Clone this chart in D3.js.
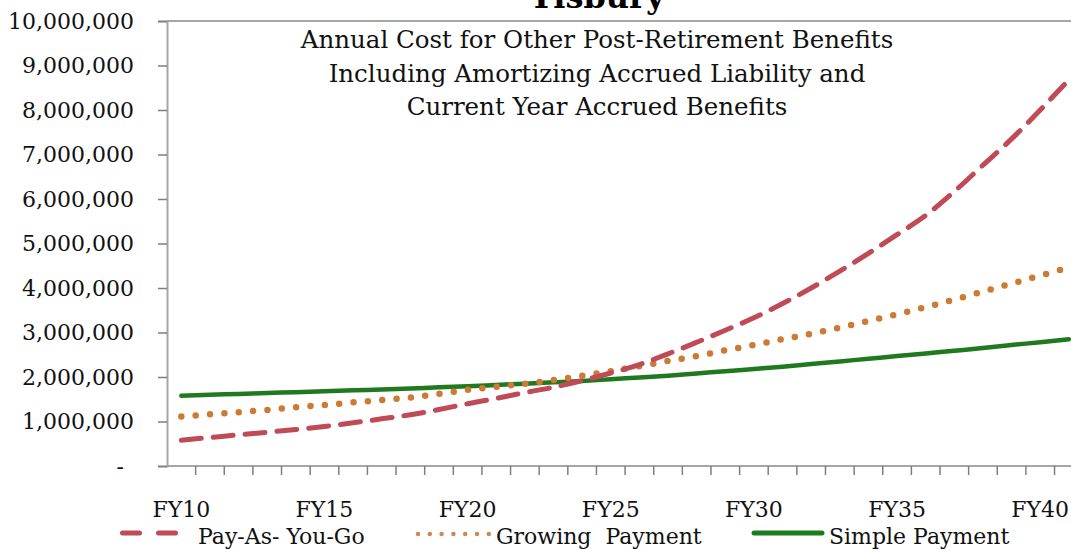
<!DOCTYPE html>
<html>
<head>
<meta charset="utf-8">
<script src="https://cdn.jsdelivr.net/npm/d3@7"></script>
<style>
  html, body { margin: 0; padding: 0; background: #fff; }
  svg { display: block; font-family: 'DejaVu Serif', serif; }
</style>
</head>
<body>
<svg id="chart" width="1071" height="550"></svg>
<script>
// categories FY10 .. FY41
var years = ['FY10','FY11','FY12','FY13','FY14','FY15','FY16','FY17','FY18','FY19',
             'FY20','FY21','FY22','FY23','FY24','FY25','FY26','FY27','FY28','FY29',
             'FY30','FY31','FY32','FY33','FY34','FY35','FY36','FY37','FY38','FY39',
             'FY40','FY41'];
var xLabels = ['FY10','FY15','FY20','FY25','FY30','FY35','FY40'];
var yTicks = [0,1000000,2000000,3000000,4000000,5000000,6000000,7000000,8000000,9000000,10000000];

// values (dollars)
var payAsYouGo = [580000,640000,700000,760000,820000,890000,970000,1060000,1150000,1270000,
                  1400000,1520000,1650000,1770000,1920000,2090000,2280000,2520000,2780000,3050000,
                  3330000,3650000,4000000,4380000,4780000,5200000,5630000,6170000,6760000,7350000,
                  8000000,8680000];
var growingPayment = [1110000,1160000,1210000,1260000,1320000,1370000,1430000,1480000,1540000,1620000,
                      1710000,1780000,1850000,1930000,2030000,2130000,2240000,2360000,2470000,2600000,
                      2720000,2850000,2970000,3110000,3260000,3410000,3570000,3740000,3920000,4100000,
                      4280000,4460000];
var simplePayment = [1580000,1600000,1620000,1640000,1660000,1680000,1700000,1720000,1740000,1770000,
                     1790000,1820000,1850000,1880000,1910000,1950000,1990000,2030000,2080000,2130000,
                     2180000,2230000,2290000,2350000,2410000,2470000,2530000,2590000,2650000,2720000,
                     2780000,2850000];

var seriesNames = ['Pay-As- You-Go', 'Growing  Payment', 'Simple Payment'];
var titleLines = ['Annual Cost for Other Post-Retirement Benefits',
                  'Including Amortizing Accrued Liability and',
                  'Current Year Accrued Benefits'];

var svg = d3.select('#chart');

var plot = {l: 167, t: 21, b: 466, step: 28.63};

var xScale = d3.scaleBand()
    .domain(years)
    .range([plot.l, plot.l + years.length * plot.step])
    .paddingInner(0).paddingOuter(0);
var yScale = d3.scaleLinear().domain([0, 10000000]).range([plot.b, plot.t]);

// frame: top border
svg.append('line')
    .attr('x1', plot.l).attr('x2', 1071)
    .attr('y1', plot.t).attr('y2', plot.t)
    .attr('stroke', '#a6a6a6').attr('stroke-width', 2);

// y axis
var yAxisG = svg.append('g')
    .attr('transform', 'translate(' + plot.l + ',0)')
    .call(d3.axisLeft(yScale)
        .tickValues(yTicks)
        .tickSize(9)
        .tickPadding(24)
        .tickFormat(d => d === 0 ? '-' : d3.format(',')(d)));
yAxisG.select('.domain').attr('stroke', '#a6a6a6').attr('stroke-width', 2);
yAxisG.selectAll('.tick line').attr('stroke', '#7f7f7f').attr('stroke-width', 1.5);
yAxisG.selectAll('.tick text')
    .style('font-size', '22px')
    .style('font-family', "'DejaVu Serif', serif")
    .attr('fill', '#111');
yAxisG.selectAll('.tick').filter(d => d === 0).select('text').attr('dx', -10);

// x axis baseline
svg.append('line')
    .attr('x1', plot.l).attr('x2', 1071)
    .attr('y1', plot.b).attr('y2', plot.b)
    .attr('stroke', '#a6a6a6').attr('stroke-width', 2);

// tick marks between categories
svg.append('g').selectAll('line')
    .data(years.slice(1))
    .enter().append('line')
    .attr('x1', d => xScale(d)).attr('x2', d => xScale(d))
    .attr('y1', plot.b).attr('y2', plot.b + 9)
    .attr('stroke', '#7f7f7f').attr('stroke-width', 1.5);

// x labels
var xAxisG = svg.append('g')
    .attr('transform', 'translate(0,' + plot.b + ')')
    .call(d3.axisBottom(xScale).tickValues(xLabels).tickSize(0).tickPadding(35));
xAxisG.select('.domain').remove();
xAxisG.selectAll('.tick text')
    .style('font-size', '22px')
    .style('font-family', "'DejaVu Serif', serif")
    .attr('fill', '#111');

// lines
var lineGen = d3.line()
    .x((d, i) => xScale(years[i]) + xScale.bandwidth() / 2)
    .y(d => yScale(d))
    .curve(d3.curveMonotoneX);

svg.append('path')
    .datum(simplePayment)
    .attr('d', lineGen)
    .attr('fill', 'none')
    .attr('stroke', '#1f7a1f')
    .attr('stroke-width', 4.5)
    .attr('stroke-linecap', 'round');

svg.append('path')
    .datum(growingPayment)
    .attr('d', lineGen)
    .attr('fill', 'none')
    .attr('stroke', '#cc7a34')
    .attr('stroke-width', 6.5)
    .attr('stroke-linecap', 'round')
    .attr('stroke-dasharray', '0,14.4');

svg.append('path')
    .datum(payAsYouGo)
    .attr('d', lineGen)
    .attr('fill', 'none')
    .attr('stroke', '#bf4b57')
    .attr('stroke-width', 5)
    .attr('stroke-linecap', 'round')
    .attr('stroke-dasharray', '20,12');

// title (cropped at the top, as in the original)
svg.append('text')
    .attr('x', 597).attr('y', 8)
    .attr('text-anchor', 'middle')
    .style('font-size', '32px')
    .style('font-weight', 'bold')
    .attr('fill', '#000')
    .text('Tisbury');

svg.selectAll('.subtitle')
    .data(titleLines)
    .enter().append('text')
    .attr('class', 'subtitle')
    .attr('x', 597)
    .attr('y', (d, i) => 48 + i * 33.5)
    .attr('text-anchor', 'middle')
    .style('font-size', '24.5px')
    .attr('fill', '#111')
    .text(d => d);

// legend
var legendY = 533;
var legend = svg.append('g');

legend.append('line')
    .attr('x1', 122.5).attr('x2', 175.5).attr('y1', legendY).attr('y2', legendY)
    .attr('stroke', '#bf4b57').attr('stroke-width', 5)
    .attr('stroke-linecap', 'round').attr('stroke-dasharray', '17,19');
legend.append('line')
    .attr('x1', 418).attr('x2', 489).attr('y1', legendY + 1).attr('y2', legendY + 1)
    .attr('stroke', '#c98a55').attr('stroke-width', 4.5)
    .attr('stroke-linecap', 'round').attr('stroke-dasharray', '0,11.8');
legend.append('line')
    .attr('x1', 754).attr('x2', 822).attr('y1', legendY).attr('y2', legendY)
    .attr('stroke', '#1f7a1f').attr('stroke-width', 5)
    .attr('stroke-linecap', 'round');

var legendTextX = [198, 496, 829];
legend.selectAll('text')
    .data(seriesNames)
    .enter().append('text')
    .attr('x', (d, i) => legendTextX[i])
    .attr('y', 544)
    .attr('xml:space', 'preserve')
    .style('white-space', 'pre')
    .style('font-size', '22px')
    .attr('fill', '#111')
    .text(d => d);
</script>
</body>
</html>
